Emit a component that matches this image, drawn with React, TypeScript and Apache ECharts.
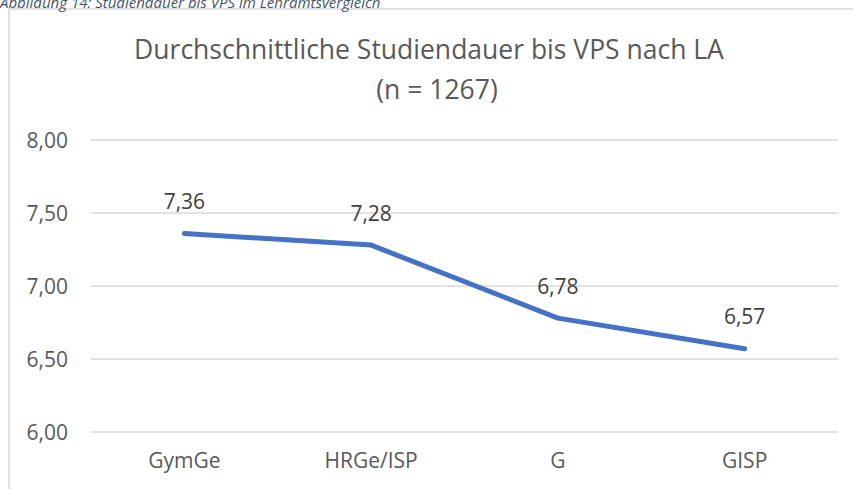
import React, { useEffect, useRef } from "react";
import * as echarts from "echarts";

const categories = ["GymGe", "HRGe/ISP", "G", "GISP"];
const values = [7.36, 7.28, 6.78, 6.57];
const titleLines = ["Durchschnittliche Studiendauer bis VPS nach LA", "(n = 1267)"];
const caption = "Abbildung 14: Studiendauer bis VPS im Lehramtsvergleich";

const fmt = (v: number) => Number(v).toFixed(2).replace(".", ",");

export default function App() {
  const ref = useRef<HTMLDivElement>(null);
  useEffect(() => {
    if (!ref.current) return;
    const chart = echarts.init(ref.current, undefined, { renderer: "svg" });
    chart.setOption({
      animation: false,
      backgroundColor: "#ffffff",
      textStyle: { fontFamily: "Open Sans" },
      graphic: [
        {
          type: "rect",
          shape: { x: 9, y: 9, width: 900, height: 600 },
          style: { fill: "none", stroke: "#d9d9d9", lineWidth: 1.5 },
          silent: true,
        },
        {
          type: "text",
          x: 0,
          y: 9,
          style: {
            text: caption,
            fontFamily: "Open Sans",
            fontStyle: "italic",
            fontSize: 15,
            fill: "#44546a",
            verticalAlign: "bottom",
          },
        },
        {
          type: "text",
          x: 429,
          y: 49,
          style: {
            text: titleLines[0],
            fontFamily: "Open Sans",
            fontSize: 26.5,
            fill: "#595959",
            align: "center",
            verticalAlign: "middle",
          },
        },
        {
          type: "text",
          x: 437,
          y: 89,
          style: {
            text: titleLines[1],
            fontFamily: "Open Sans",
            fontSize: 26.5,
            fill: "#595959",
            align: "center",
            verticalAlign: "middle",
          },
        },
      ],
      grid: { left: 91, right: 15, top: 140, bottom: 57 },
      xAxis: {
        type: "category",
        data: categories,
        boundaryGap: true,
        axisLine: { show: false },
        axisTick: { show: false },
        axisLabel: { color: "#595959", fontSize: 21, fontFamily: "Open Sans", margin: 17 },
      },
      yAxis: {
        type: "value",
        min: 6,
        max: 8,
        interval: 0.5,
        axisLine: { show: false },
        axisTick: { show: false },
        axisLabel: {
          color: "#595959",
          fontSize: 21,
          fontFamily: "Open Sans",
          margin: 23,
          formatter: (v: number) => fmt(v),
        },
        splitLine: { lineStyle: { color: "#d9d9d9", width: 1.5 } },
      },
      series: [
        {
          type: "line",
          data: values,
          showSymbol: true,
          symbol: "circle",
          symbolSize: 4,
          itemStyle: { color: "#4472c4" },
          lineStyle: { color: "#4472c4", width: 5, cap: "round", join: "round" },
          label: {
            show: true,
            position: "top",
            distance: 20,
            color: "#404040",
            fontSize: 21,
            fontFamily: "Open Sans",
            formatter: (p: any) => fmt(p.value),
          },
        },
      ],
    });
    return () => chart.dispose();
  }, []);
  return (
    <div
      ref={ref}
      style={{ position: "fixed", left: 0, top: 0, width: 853, height: 489 }}
    />
  );
}
